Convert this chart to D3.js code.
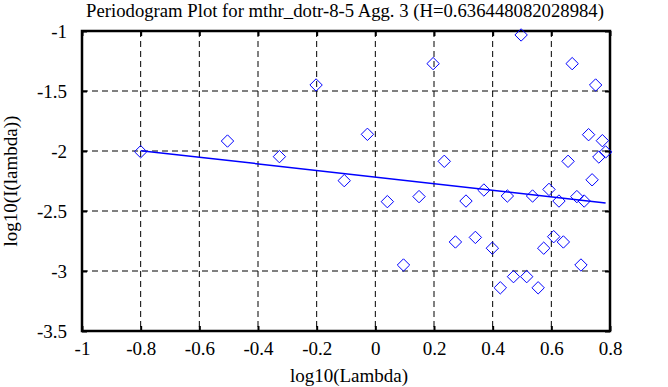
<!DOCTYPE html>
<html>
<head>
<meta charset="utf-8">
<script src="https://cdn.jsdelivr.net/npm/d3@7"></script>
<style>
  body { margin: 0; background: #fff; }
  text { font-family: "Liberation Serif", "DejaVu Serif", serif; }
</style>
</head>
<body>
<div id="mainContainer"></div>
<script>
var titleText = "Periodogram Plot for mthr_dotr-8-5 Agg. 3 (H=0.636448082028984)";
var xTicks = [-1, -0.8, -0.6, -0.4, -0.2, 0, 0.2, 0.4, 0.6, 0.8];
var yTicks = [-3.5, -3, -2.5, -2, -1.5, -1];

// periodogram points, log10(lambda) / log10(I(lambda))
var logLambda = [-0.8, -0.504, -0.327, -0.202, -0.106, -0.027, 0.041, 0.096, 0.149, 0.197,
    0.235, 0.273, 0.309, 0.341, 0.370, 0.399, 0.426, 0.450, 0.471, 0.497,
    0.516, 0.536, 0.555, 0.574, 0.592, 0.608, 0.626, 0.641, 0.657, 0.671,
    0.687, 0.701, 0.712, 0.727, 0.739, 0.751, 0.762, 0.774, 0.785];
var logPower = [-2.006, -1.917, -2.047, -1.45, -2.247, -1.861, -2.422, -2.95, -2.38, -1.272,
    -2.086, -2.758, -2.417, -2.72, -2.325, -2.81, -3.14, -2.375, -3.047, -1.033,
    -3.047, -2.375, -3.14, -2.81, -2.32, -2.714, -2.417, -2.758, -2.086, -1.272,
    -2.38, -2.95, -2.417, -1.864, -2.24, -1.45, -2.05, -1.914, -2.008];

// fitted line end points
var fitX = [-0.8, 0.785];
var fitY = [-1.997, -2.433];

var margin = { top: 31, right: 58, bottom: 56, left: 82 },
    width = 668 - margin.left - margin.right,
    height = 387 - margin.top - margin.bottom;

var svg = d3.select('#mainContainer').append('svg')
    .attr('width', 668)
    .attr('height', 387);

var g = svg.append('g')
    .attr('transform', 'translate(' + margin.left + ',' + margin.top + ')');

var xscale = d3.scaleLinear().domain([-1, 0.8]).range([0, width]);
var yscale = d3.scaleLinear().domain([-3.5, -1]).range([height, 0]);

// grid
g.selectAll('.vgrid')
    .data(xTicks.slice(1, -1))
    .enter().append('line')
    .attr('x1', function(d) { return xscale(d); })
    .attr('x2', function(d) { return xscale(d); })
    .attr('y1', 0).attr('y2', height)
    .attr('stroke', 'black').attr('stroke-dasharray', '6,4');

g.selectAll('.hgrid')
    .data(yTicks.slice(1, -1))
    .enter().append('line')
    .attr('y1', function(d) { return yscale(d); })
    .attr('y2', function(d) { return yscale(d); })
    .attr('x1', 0).attr('x2', width)
    .attr('stroke', 'black').attr('stroke-dasharray', '6,4');

// axes with inward ticks
function styleAxis(sel) {
    sel.attr('font-family', null).attr('font-size', null);
    sel.select('.domain').remove();
    sel.selectAll('.tick line').attr('stroke', 'black').attr('stroke-width', 2);
    sel.selectAll('text')
        .attr('font-size', '19px')
        .attr('fill', 'black');
}

g.append('g')
    .attr('transform', 'translate(0,' + height + ')')
    .call(d3.axisBottom(xscale).tickValues(xTicks).tickSize(-5).tickPadding(11)
        .tickFormat(function(d) { return d; }))
    .call(styleAxis);

g.append('g')
    .call(d3.axisTop(xscale).tickValues(xTicks).tickSize(-5).tickFormat(''))
    .call(styleAxis);

g.append('g')
    .call(d3.axisLeft(yscale).tickValues(yTicks).tickSize(-5).tickPadding(15)
        .tickFormat(function(d) { return d; }))
    .call(styleAxis);

g.append('g')
    .attr('transform', 'translate(' + width + ',0)')
    .call(d3.axisRight(yscale).tickValues(yTicks).tickSize(-5).tickFormat(''))
    .call(styleAxis);

g.append('rect')
    .attr('x', 0).attr('y', 0)
    .attr('width', width).attr('height', height)
    .attr('fill', 'none').attr('stroke', 'black').attr('stroke-width', 2.5);

// points
var diamond = d3.symbol().type(d3.symbolDiamond2).size(98);
g.selectAll('.pt')
    .data(logLambda)
    .enter().append('path')
    .attr('d', diamond)
    .attr('transform', function(d, i) {
        return 'translate(' + xscale(d) + ',' + yscale(logPower[i]) + ')';
    })
    .attr('fill', 'none')
    .attr('stroke', 'blue')
    .attr('stroke-width', 1);

// fit line
g.append('line')
    .attr('x1', xscale(fitX[0])).attr('y1', yscale(fitY[0]))
    .attr('x2', xscale(fitX[1])).attr('y2', yscale(fitY[1]))
    .attr('stroke', 'blue').attr('stroke-width', 1.5);

// labels
svg.append('text')
    .attr('x', 345).attr('y', 17)
    .attr('text-anchor', 'middle')
    .attr('font-size', '18.7px')
    .attr('fill', 'black')
    .text(titleText);

svg.append('text')
    .attr('x', margin.left + width / 2 + 3).attr('y', 382)
    .attr('text-anchor', 'middle')
    .attr('font-size', '19px')
    .attr('fill', 'black')
    .text('log10(Lambda)');

svg.append('text')
    .attr('transform', 'translate(17,' + (margin.top + height / 2) + ') rotate(-90)')
    .attr('text-anchor', 'middle')
    .attr('font-size', '19px')
    .attr('fill', 'black')
    .text('log10(I(lambda))');
</script>
</body>
</html>
